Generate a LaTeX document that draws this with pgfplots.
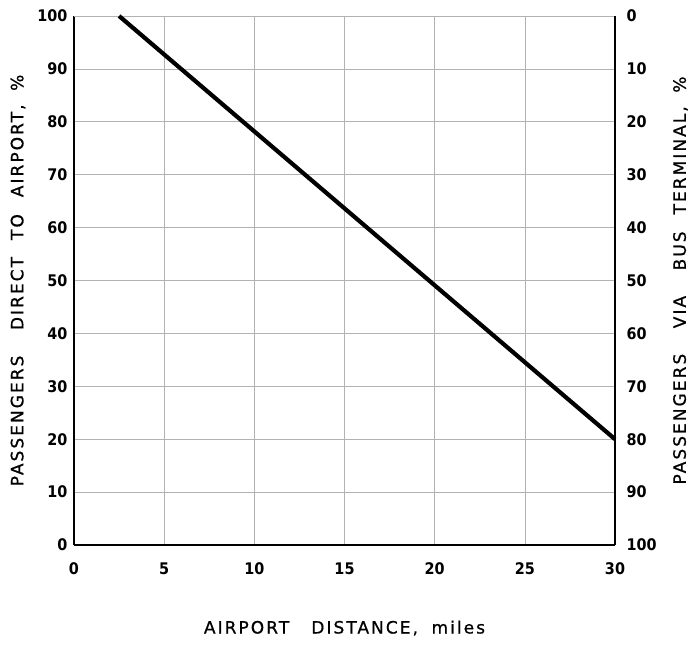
\documentclass[border=0pt]{standalone}
\usepackage{pgfplots}
\pgfplotsset{compat=1.18}
\usepackage{fontspec}
\setmainfont{DejaVu Sans}
\newfontfamily\tickfont{DejaVu Sans Condensed}
\newfontfamily\labfont[LetterSpace=12,FakeBold=0.8]{DejaVu Sans}
\begin{document}
\begin{tikzpicture}
\useasboundingbox (-74pt,-106pt) rectangle (617pt,545pt);
\begin{axis}[
  at={(0,0)}, anchor=south west,
  width=541pt, height=529pt, scale only axis,
  xmin=0, xmax=30, ymin=0, ymax=100,
  xtick={0,5,...,30}, ytick={0,10,...,100},
  axis x line*=bottom, axis y line*=left,
  axis line style={line width=1.8pt, -},
  grid=major,
  major grid style={gray!60, line width=0.6pt},
  major tick length=0pt,
  tick label style={font=\fontsize{16}{18}\selectfont\tickfont\bfseries},
  /pgf/number format/assume math mode=true,
  xticklabel style={yshift=-14pt},
  yticklabel style={xshift=-3pt},
  xlabel={AIRPORT\hspace{1.3em}DISTANCE,\hspace{0.8em}miles},
  ylabel={PASSENGERS\hspace{1.5em}DIRECT\hspace{1em}TO\hspace{1em}AIRPORT,\hspace{0.8em}\%},
  label style={font=\fontsize{17}{19}\selectfont\labfont},
  xlabel style={at={(axis description cs:0.5,-0.157)}, anchor=center},
  ylabel style={at={(axis description cs:-0.1035,0.5)}, anchor=center},
  clip=false,
]
\draw[gray!60, line width=0.6pt] (axis cs:0,100) -- (axis cs:30,100);
\addplot[black, line width=4.2pt] coordinates {(2.5,100) (30,20)};
\end{axis}
\begin{axis}[
  at={(0,0)}, anchor=south west,
  width=541pt, height=529pt, scale only axis,
  xmin=0, xmax=30, ymin=0, ymax=100, y dir=reverse,
  ytick={0,10,...,100},
  axis y line*=right, axis x line=none,
  axis line style={line width=1.8pt, -},
  major tick length=0pt,
  tick label style={font=\fontsize{16}{18}\selectfont\tickfont\bfseries},
  /pgf/number format/assume math mode=true,
  yticklabel style={xshift=8pt},
  ylabel={PASSENGERS\hspace{1.5em}VIA\hspace{1.5em}BUS\hspace{1em}TERMINAL,\hspace{0.8em}\%},
  label style={font=\fontsize{17}{19}\selectfont\labfont},
  ylabel style={at={(axis description cs:1.121,0.5)}, anchor=center},
]
\addplot[draw=none] coordinates {(0,0)};
\end{axis}
\end{tikzpicture}
\end{document}
